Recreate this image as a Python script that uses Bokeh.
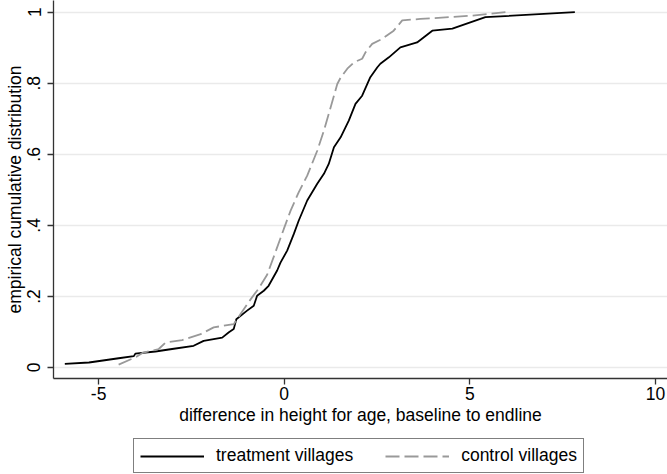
from bokeh.plotting import figure
from bokeh.models import Range1d, FixedTicker, Legend, LegendItem
from bokeh.layouts import column
from bokeh.embed import file_html
from bokeh.resources import INLINE

# treatment villages ECDF
treat_x = [-5.91, -5.26, -4.46, -4.05, -4.01, -3.47, -3.02, -2.44, -2.17, -1.67, -1.49,
           -1.36, -1.29, -1.00, -0.82, -0.73, -0.55, -0.42, -0.19, -0.10, 0.08, 0.26,
           0.39, 0.62, 0.89, 1.07, 1.20, 1.34, 1.52, 1.74, 1.92, 2.10, 2.32, 2.51, 2.59,
           2.82, 3.13, 3.58, 3.99, 4.53, 5.42, 7.83]
treat_y = [0.010, 0.014, 0.026, 0.032, 0.039, 0.045, 0.052, 0.061, 0.075, 0.084, 0.099,
           0.108, 0.136, 0.160, 0.174, 0.202, 0.216, 0.230, 0.273, 0.295, 0.329, 0.376,
           0.413, 0.470, 0.517, 0.545, 0.573, 0.620, 0.648, 0.695, 0.742, 0.765, 0.817,
           0.845, 0.855, 0.873, 0.901, 0.915, 0.948, 0.954, 0.986, 1.0]

# control villages ECDF
ctrl_x = [-4.46, -3.98, -3.82, -3.38, -3.20, -2.75, -2.25, -1.90, -1.36, -1.18, -0.91,
          -0.69, -0.46, -0.28, -0.01, 0.17, 0.39, 0.62, 0.89, 1.07, 1.25, 1.43, 1.52,
          1.70, 1.88, 2.10, 2.19, 2.37, 2.64, 2.95, 3.18, 3.67, 5.02, 5.96]
ctrl_y = [0.008, 0.030, 0.041, 0.052, 0.070, 0.077, 0.094, 0.113, 0.122, 0.150, 0.191,
          0.222, 0.261, 0.312, 0.390, 0.441, 0.493, 0.540, 0.610, 0.667, 0.732, 0.798,
          0.816, 0.841, 0.859, 0.869, 0.887, 0.911, 0.925, 0.948, 0.977, 0.981, 0.990, 1.0]

x_ticks = [-5, 0, 5, 10]
x_tick_labels = ["-5", "0", "5", "10"]
y_ticks = [0, 0.2, 0.4, 0.6, 0.8, 1.0]
y_tick_labels = ["0", ".2", ".4", ".6", ".8", "1"]
series_labels = ["treatment villages", "control villages"]

FONT = "Liberation Sans"
FS = "17.5px"
TREAT_STYLE = dict(line_color="black", line_width=1.8)
CTRL_STYLE = dict(line_color="#999999", line_width=1.8, line_dash="14 5")

p = figure(width=667, height=438, output_backend="svg", toolbar_location=None,
           x_range=Range1d(-6.215, 10.326), y_range=Range1d(-0.031, 1.033),
           min_border_left=53, min_border_right=0, min_border_top=0, min_border_bottom=60)
p.outline_line_color = None
p.background_fill_color = "white"
p.border_fill_color = "white"
p.xgrid.visible = False
p.ygrid.grid_line_color = "#eaeaea"
p.ygrid.grid_line_width = 1.5

p.xaxis.ticker = FixedTicker(ticks=x_ticks)
p.xaxis.major_label_overrides = {t: l for t, l in zip(x_ticks, x_tick_labels)}
p.yaxis.ticker = FixedTicker(ticks=y_ticks)
p.yaxis.major_label_overrides = {t: l for t, l in zip(y_ticks, y_tick_labels)}
p.yaxis.major_label_orientation = "vertical"

for ax in p.axis:
    ax.minor_tick_line_color = None
    ax.major_tick_in = 0
    ax.major_tick_out = 6
    ax.axis_line_color = "#333333"
    ax.axis_line_width = 1.3
    ax.major_tick_line_color = "#333333"
    ax.major_tick_line_width = 1.3
    ax.major_label_text_font = FONT
    ax.major_label_text_font_size = FS
    ax.major_label_text_color = "black"
    ax.axis_label_text_font = FONT
    ax.axis_label_text_font_size = FS
    ax.axis_label_text_font_style = "normal"
    ax.axis_label_text_color = "black"
    ax.major_label_standoff = 2
    ax.axis_label_standoff = 2

p.xaxis.axis_label = "difference in height for age, baseline to endline"
p.yaxis.axis_label = "empirical cumulative distribution"
p.yaxis.major_label_standoff = 7
p.yaxis.axis_label_standoff = 0

p.line(treat_x, treat_y, **TREAT_STYLE)
p.line(ctrl_x, ctrl_y, **CTRL_STYLE)

# legend strip below the chart (its key renderers lie outside its visible range)
p2 = figure(width=667, height=36, output_backend="svg", toolbar_location=None,
            x_range=Range1d(100, 101), y_range=Range1d(100, 101),
            x_axis_type=None, y_axis_type=None,
            min_border=0, min_border_left=0, min_border_right=0,
            min_border_top=0, min_border_bottom=0)
p2.outline_line_color = None
p2.grid.visible = False
p2.border_fill_color = "white"
p2.background_fill_color = "white"
k1 = p2.line(treat_x, treat_y, **TREAT_STYLE)
k2 = p2.line(ctrl_x, ctrl_y, **CTRL_STYLE)

legend = Legend(items=[LegendItem(label=series_labels[0], renderers=[k1]),
                       LegendItem(label=series_labels[1], renderers=[k2])],
                orientation="horizontal", location=(80, 1))
legend.border_line_color = "black"
legend.border_line_width = 1
legend.background_fill_color = "white"
legend.label_text_font = FONT
legend.label_text_font_size = FS
legend.label_text_color = "black"
legend.glyph_width = 64
legend.glyph_height = 20
legend.label_standoff = 12
legend.spacing = 32
legend.padding = 6
legend.margin = 0
p2.add_layout(legend, "center")

layout = column(p, p2, spacing=0)
open("out.html", "w").write(file_html(layout, INLINE))
